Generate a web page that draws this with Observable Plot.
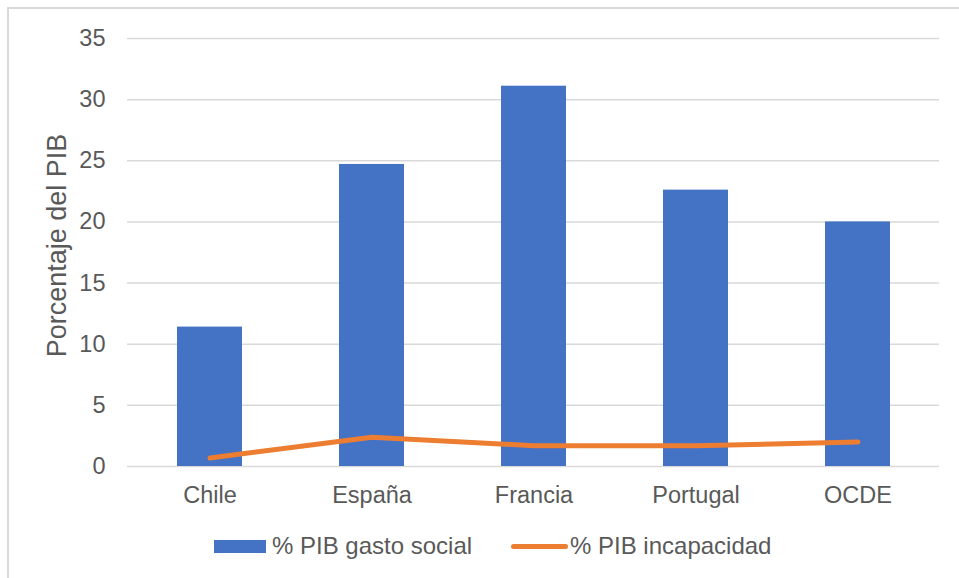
<!DOCTYPE html>
<html>
<head>
<meta charset="utf-8">
<script src="https://cdn.jsdelivr.net/npm/d3@7"></script>
<script src="https://cdn.jsdelivr.net/npm/@observablehq/plot@0.6"></script>
<style>
  html, body { margin: 0; padding: 0; background: #fff; }
  body { font-family: "Liberation Sans", Arial, sans-serif; color: #595959; }
  #wrap { position: relative; width: 959px; height: 578px; overflow: hidden; background: #fff; }
  #frame { position: absolute; left: 7px; top: 7px; width: 1000px; height: 600px;
           border-left: 2px solid #d9d9d9; border-top: 2px solid #d9d9d9; }
  #chart { position: absolute; left: 0; top: 0; }
  .leg { position: absolute; top: 534px; height: 24px; display: flex; align-items: center;
         font-size: 24px; line-height: 24px; color: #595959; white-space: nowrap; }
  .sw-bar { width: 52px; height: 13px; background: #4472c4; margin-right: 6px; }
  .sw-line { width: 57px; height: 5px; background: #ed7d31; border-radius: 3px; margin-right: 2px; }
</style>
</head>
<body>
<div id="wrap">
  <div id="frame"></div>
  <div id="chart"></div>
  <div class="leg" style="left:214px"><div class="sw-bar"></div><span id="lg1"></span></div>
  <div class="leg" style="left:511px"><div class="sw-line"></div><span id="lg2"></span></div>
</div>
<script>
const paises = ["Chile", "España", "Francia", "Portugal", "OCDE"];
const gastoSocial = [11.4, 24.7, 31.1, 22.6, 20.0];
const incapacidad = [0.7, 2.4, 1.7, 1.7, 2.0];
const yTicks = [0, 5, 10, 15, 20, 25, 30, 35];
const serieNombres = ["% PIB gasto social", "% PIB incapacidad"];
const yTitulo = "Porcentaje del PIB";

const colores = { bar: "#4472c4", line: "#ed7d31" };

const datos = paises.map((p, i) => ({ pais: p, gasto: gastoSocial[i], incap: incapacidad[i] }));

const chart = Plot.plot({
  width: 959,
  height: 520,
  marginTop: 38,
  marginBottom: 54,
  marginLeft: 127,
  marginRight: 20,
  style: { fontFamily: "'Liberation Sans', Arial, sans-serif", fontSize: "23.5px", color: "#595959", background: "transparent", overflow: "visible" },
  x: { domain: paises, paddingInner: 0.6, paddingOuter: 0.3, label: null },
  y: { domain: [0, 35], label: null },
  marks: [
    Plot.gridY(yTicks, { stroke: "#d9d9d9", strokeOpacity: 1, strokeWidth: 1.5 }),
    Plot.barY(datos, { x: "pais", y: "gasto", fill: colores.bar }),
    Plot.lineY(datos, { x: "pais", y: "incap", stroke: colores.line, strokeWidth: 5, strokeLinecap: "round", strokeLinejoin: "round" }),
    Plot.axisY({ ticks: yTicks, tickSize: 0, tickPadding: 22, label: null, fontSize: 23.5 }),
    Plot.axisX({ tickSize: 0, tickPadding: 20, label: null, fontSize: 23.5 }),
    Plot.text([yTitulo], { frameAnchor: "left", dx: -70, dy: -7, rotate: -90, text: d => d, fontSize: 27, fill: "#595959", textAnchor: "middle" })
  ]
});
document.getElementById("chart").appendChild(chart);
document.getElementById("lg1").textContent = serieNombres[0];
document.getElementById("lg2").textContent = serieNombres[1];
</script>
</body>
</html>
